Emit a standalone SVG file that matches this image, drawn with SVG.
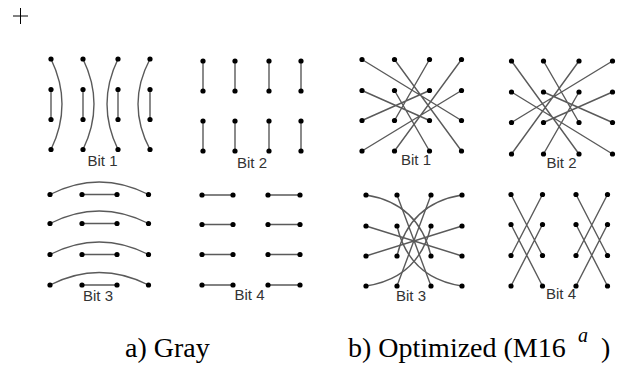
<svg xmlns="http://www.w3.org/2000/svg" xmlns:xlink="http://www.w3.org/1999/xlink" width="620" height="373" viewBox="0 0 620 373">
<style>
.e{fill:none;stroke:#5a5a5a;stroke-width:1.4}
.lbl{font-family:"Liberation Sans",Arial,sans-serif;font-size:15px;fill:#333;text-anchor:middle}
.cap{font-family:"Liberation Serif","Times New Roman",serif;font-size:28px;fill:#000}
.sup{font-family:"Liberation Serif","Times New Roman",serif;font-size:20px;font-style:italic;fill:#000}
</style>
<defs>
<circle id="d" r="2.6" fill="#000"/>
</defs>
<rect width="620" height="373" fill="#fff"/>
<g id="plus" stroke="#000" stroke-width="1">
<line x1="13" y1="16" x2="28" y2="16"/>
<line x1="20.5" y1="8" x2="20.5" y2="24"/>
</g>
<g id="connectors">
<g id="gray-bit1-edges">
<path class="e" d="M51,59 Q73,104.25 51,149.5"/>
<path class="e" d="M83,59 Q105,104.25 83,149.5"/>
<path class="e" d="M118,59 Q96,104.25 118,149.5"/>
<path class="e" d="M150,59 Q126,104.25 150,149.5"/>
<path class="e" d="M51,89.5V119.5M83,89.5V119.5M118,89.5V119.5M150,89.5V119.5"/>
</g>
<g id="gray-bit2-edges">
<path class="e" d="M203,61V91M235,61V91M269,61V91M301,61V91M203,121V151M235,121V151M269,121V151M301,121V151"/>
</g>
<g id="gray-bit3-edges">
<path class="e" d="M50,194.5 Q99.25,169.5 148.5,194.5"/>
<path class="e" d="M50,223.5 Q99.25,198.5 148.5,223.5"/>
<path class="e" d="M50,254.5 Q99.25,229.5 148.5,254.5"/>
<path class="e" d="M50,285 Q99.25,260 148.5,285"/>
<path class="e" d="M82,194.5H117M82,223.5H117M82,254.5H117M82,285H117"/>
</g>
<g id="gray-bit4-edges">
<path class="e" d="M202,195H233M268,195H300M202,224.5H233M268,224.5H300M202,254.5H233M268,254.5H300M202,285H233M268,285H300"/>
</g>
<g id="opt-bit1-edges">
<path class="e" d="M362,59.5L461.5,120.5M394.5,59.5L461.5,151M429.5,59.5L394.5,120.5M461.5,59.5L394.5,151M362,90.5L429.5,120.5M394.5,90.5L429.5,151M362,120.5L429.5,90.5M362,151L461.5,90.5"/>
</g>
<g id="opt-bit2-edges">
<path class="e" d="M511.5,61L579,154M543.5,61L579,122.5M579,61L511.5,154M612.5,61L511.5,122.5M511.5,92L612.5,154M543.5,92L612.5,122.5M543.5,122.5L612.5,92M543.5,154L579,92"/>
</g>
<g id="opt-bit3-edges">
<path class="e" d="M397,195L431,286M431,195L397,286M366,226L462,256M366,256L462,226"/>
<path class="e" d="M366,195 Q419,203.6 431,256"/>
<path class="e" d="M462,286 Q409.2,278 397,226"/>
<path class="e" d="M462,195 Q409,203.6 397,256"/>
<path class="e" d="M366,286 Q418.8,278 431,226"/>
</g>
<g id="opt-bit4-edges">
<path class="e" d="M511,194.5L542.5,255.5M542.5,194.5L511,255.5M511,224.5L542.5,286M542.5,224.5L511,286M576,194.5L607.5,255.5M607.5,194.5L576,255.5M576,224.5L607.5,286M607.5,224.5L576,286"/>
</g>
</g>
<g id="gray-bit1">
<use href="#d" x="51" y="59"/><use href="#d" x="83" y="59"/><use href="#d" x="118" y="59"/><use href="#d" x="150" y="59"/>
<use href="#d" x="51" y="89.5"/><use href="#d" x="83" y="89.5"/><use href="#d" x="118" y="89.5"/><use href="#d" x="150" y="89.5"/>
<use href="#d" x="51" y="119.5"/><use href="#d" x="83" y="119.5"/><use href="#d" x="118" y="119.5"/><use href="#d" x="150" y="119.5"/>
<use href="#d" x="51" y="149.5"/><use href="#d" x="83" y="149.5"/><use href="#d" x="118" y="149.5"/><use href="#d" x="150" y="149.5"/>
<text class="lbl" x="102.5" y="166">Bit 1</text>
</g>
<g id="gray-bit2">
<use href="#d" x="203" y="61"/><use href="#d" x="235" y="61"/><use href="#d" x="269" y="61"/><use href="#d" x="301" y="61"/>
<use href="#d" x="203" y="91"/><use href="#d" x="235" y="91"/><use href="#d" x="269" y="91"/><use href="#d" x="301" y="91"/>
<use href="#d" x="203" y="121"/><use href="#d" x="235" y="121"/><use href="#d" x="269" y="121"/><use href="#d" x="301" y="121"/>
<use href="#d" x="203" y="151"/><use href="#d" x="235" y="151"/><use href="#d" x="269" y="151"/><use href="#d" x="301" y="151"/>
<text class="lbl" x="252" y="168">Bit 2</text>
</g>
<g id="gray-bit3">
<use href="#d" x="50" y="194.5"/><use href="#d" x="82" y="194.5"/><use href="#d" x="117" y="194.5"/><use href="#d" x="148.5" y="194.5"/>
<use href="#d" x="50" y="223.5"/><use href="#d" x="82" y="223.5"/><use href="#d" x="117" y="223.5"/><use href="#d" x="148.5" y="223.5"/>
<use href="#d" x="50" y="254.5"/><use href="#d" x="82" y="254.5"/><use href="#d" x="117" y="254.5"/><use href="#d" x="148.5" y="254.5"/>
<use href="#d" x="50" y="285"/><use href="#d" x="82" y="285"/><use href="#d" x="117" y="285"/><use href="#d" x="148.5" y="285"/>
<text class="lbl" x="98" y="301">Bit 3</text>
</g>
<g id="gray-bit4">
<use href="#d" x="202" y="195"/><use href="#d" x="233" y="195"/><use href="#d" x="268" y="195"/><use href="#d" x="300" y="195"/>
<use href="#d" x="202" y="224.5"/><use href="#d" x="233" y="224.5"/><use href="#d" x="268" y="224.5"/><use href="#d" x="300" y="224.5"/>
<use href="#d" x="202" y="254.5"/><use href="#d" x="233" y="254.5"/><use href="#d" x="268" y="254.5"/><use href="#d" x="300" y="254.5"/>
<use href="#d" x="202" y="285"/><use href="#d" x="233" y="285"/><use href="#d" x="268" y="285"/><use href="#d" x="300" y="285"/>
<text class="lbl" x="249.5" y="300">Bit 4</text>
</g>
<g id="opt-bit1">
<use href="#d" x="362" y="59.5"/><use href="#d" x="394.5" y="59.5"/><use href="#d" x="429.5" y="59.5"/><use href="#d" x="461.5" y="59.5"/>
<use href="#d" x="362" y="90.5"/><use href="#d" x="394.5" y="90.5"/><use href="#d" x="429.5" y="90.5"/><use href="#d" x="461.5" y="90.5"/>
<use href="#d" x="362" y="120.5"/><use href="#d" x="394.5" y="120.5"/><use href="#d" x="429.5" y="120.5"/><use href="#d" x="461.5" y="120.5"/>
<use href="#d" x="362" y="151"/><use href="#d" x="394.5" y="151"/><use href="#d" x="429.5" y="151"/><use href="#d" x="461.5" y="151"/>
<text class="lbl" x="416" y="165">Bit 1</text>
</g>
<g id="opt-bit2">
<use href="#d" x="511.5" y="61"/><use href="#d" x="543.5" y="61"/><use href="#d" x="579" y="61"/><use href="#d" x="612.5" y="61"/>
<use href="#d" x="511.5" y="92"/><use href="#d" x="543.5" y="92"/><use href="#d" x="579" y="92"/><use href="#d" x="612.5" y="92"/>
<use href="#d" x="511.5" y="122.5"/><use href="#d" x="543.5" y="122.5"/><use href="#d" x="579" y="122.5"/><use href="#d" x="612.5" y="122.5"/>
<use href="#d" x="511.5" y="154"/><use href="#d" x="543.5" y="154"/><use href="#d" x="579" y="154"/><use href="#d" x="612.5" y="154"/>
<text class="lbl" x="561.5" y="168">Bit 2</text>
</g>
<g id="opt-bit3">
<use href="#d" x="366" y="195"/><use href="#d" x="397" y="195"/><use href="#d" x="431" y="195"/><use href="#d" x="462" y="195"/>
<use href="#d" x="366" y="226"/><use href="#d" x="397" y="226"/><use href="#d" x="431" y="226"/><use href="#d" x="462" y="226"/>
<use href="#d" x="366" y="256"/><use href="#d" x="397" y="256"/><use href="#d" x="431" y="256"/><use href="#d" x="462" y="256"/>
<use href="#d" x="366" y="286"/><use href="#d" x="397" y="286"/><use href="#d" x="431" y="286"/><use href="#d" x="462" y="286"/>
<text class="lbl" x="411" y="301">Bit 3</text>
</g>
<g id="opt-bit4">
<use href="#d" x="511" y="194.5"/><use href="#d" x="542.5" y="194.5"/><use href="#d" x="576" y="194.5"/><use href="#d" x="607.5" y="194.5"/>
<use href="#d" x="511" y="224.5"/><use href="#d" x="542.5" y="224.5"/><use href="#d" x="576" y="224.5"/><use href="#d" x="607.5" y="224.5"/>
<use href="#d" x="511" y="255.5"/><use href="#d" x="542.5" y="255.5"/><use href="#d" x="576" y="255.5"/><use href="#d" x="607.5" y="255.5"/>
<use href="#d" x="511" y="286"/><use href="#d" x="542.5" y="286"/><use href="#d" x="576" y="286"/><use href="#d" x="607.5" y="286"/>
<text class="lbl" x="561" y="299">Bit 4</text>
</g>
<g id="captions">
<text class="cap" x="125" y="357">a) Gray</text>
<text class="cap" x="348" y="357">b) Optimized (M16</text>
<text class="sup" x="578" y="342">a</text>
<text class="cap" x="601" y="357">)</text>
</g>
</svg>
